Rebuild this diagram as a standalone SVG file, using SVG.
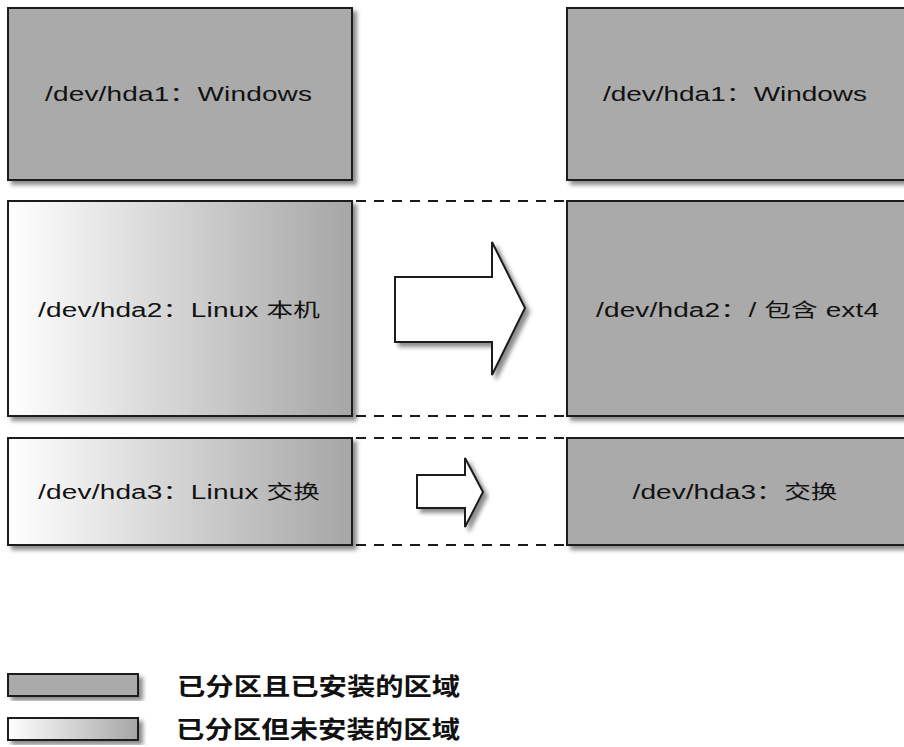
<svg xmlns="http://www.w3.org/2000/svg" width="904" height="747" viewBox="0 0 904 747">
  <defs>
    <linearGradient id="unmounted" x1="0" y1="0" x2="1" y2="0">
      <stop offset="0" stop-color="#ffffff"/>
      <stop offset="1" stop-color="#a6a6a6"/>
    </linearGradient>
    <filter id="shadow" x="-5%" y="-5%" width="115%" height="125%">
      <feDropShadow dx="4" dy="4" stdDeviation="2" flood-color="#000" flood-opacity="0.45"/>
    </filter>
    <style>
      .box { stroke: #1a1a1a; stroke-width: 2; filter: url(#shadow); }
      .mounted { fill: #aaaaaa; }
      .unmounted { fill: url(#unmounted); }
      .arrow { fill: #ffffff; stroke: #1a1a1a; stroke-width: 2; stroke-linejoin: miter; filter: url(#shadow); }
      .dash { stroke: #1a1a1a; stroke-width: 2; stroke-dasharray: 10 8; fill: none; }
      .label { font-family: "Liberation Sans", "Noto Sans CJK SC", sans-serif; font-size: 20px; fill: #111111; }
      .cjk { font-size: 19px; }
      .legend { font-family: "Noto Sans CJK SC", sans-serif; font-size: 24px; font-weight: bold; fill: #111111; }
    </style>
  </defs>

  <g id="connectors">
    <line class="dash" x1="356" y1="201" x2="567" y2="201"/>
    <line class="dash" x1="356" y1="416" x2="567" y2="416"/>
    <line class="dash" x1="356" y1="438" x2="567" y2="438"/>
    <line class="dash" x1="356" y1="545" x2="567" y2="545"/>
    <g id="arrow-large">
      <polygon class="arrow" points="395,277 492,277 492,242 525,308 492,375 492,342 395,342"/>
    </g>
    <g id="arrow-small">
      <polygon class="arrow" points="417,475 465,475 465,458 483,492 465,527 465,508 417,508"/>
    </g>
  </g>

  <g id="left-hda1">
    <rect class="box mounted" x="8" y="8" width="344" height="172"/>
    <text class="label" transform="translate(178.5 101) scale(1.4 1)" x="0" y="0" text-anchor="middle" textLength="190.7" lengthAdjust="spacing">/dev/hda1：Windows</text>
  </g>
  <g id="left-hda2">
    <rect class="box unmounted" x="8" y="201" width="344" height="215"/>
    <text class="label" transform="translate(179 317) scale(1.4 1)" x="0" y="0" text-anchor="middle" textLength="201.4" lengthAdjust="spacing">/dev/hda2：Linux <tspan class="cjk">本机</tspan></text>
  </g>
  <g id="left-hda3">
    <rect class="box unmounted" x="8" y="438" width="344" height="107"/>
    <text class="label" transform="translate(179 499) scale(1.4 1)" x="0" y="0" text-anchor="middle" textLength="201.4" lengthAdjust="spacing">/dev/hda3：Linux <tspan class="cjk">交换</tspan></text>
  </g>

  <g id="right-hda1">
    <rect class="box mounted" x="567" y="8" width="344" height="172"/>
    <text class="label" transform="translate(735 101) scale(1.4 1)" x="0" y="0" text-anchor="middle" textLength="188.6" lengthAdjust="spacing">/dev/hda1：Windows</text>
  </g>
  <g id="right-hda2">
    <rect class="box mounted" x="567" y="201" width="344" height="215"/>
    <text class="label" transform="translate(737.5 317) scale(1.4 1)" x="0" y="0" text-anchor="middle" textLength="202.1" lengthAdjust="spacing">/dev/hda2：/ <tspan class="cjk">包含</tspan> ext4</text>
  </g>
  <g id="right-hda3">
    <rect class="box mounted" x="567" y="438" width="344" height="107"/>
    <text class="label" transform="translate(735 499) scale(1.4 1)" x="0" y="0" text-anchor="middle" textLength="146.4" lengthAdjust="spacing">/dev/hda3：<tspan class="cjk">交换</tspan></text>
  </g>

  <g id="legend-mounted">
    <rect class="box mounted" x="8" y="674" width="130" height="22"/>
    <text class="legend" transform="translate(177 695) scale(1.18 1)" x="0" y="0" textLength="240" lengthAdjust="spacing">已分区且已安装的区域</text>
  </g>
  <g id="legend-unmounted">
    <rect class="box unmounted" x="8" y="718" width="130" height="22"/>
    <text class="legend" transform="translate(176 738) scale(1.18 1)" x="0" y="0" textLength="240.7" lengthAdjust="spacing">已分区但未安装的区域</text>
  </g>
</svg>
